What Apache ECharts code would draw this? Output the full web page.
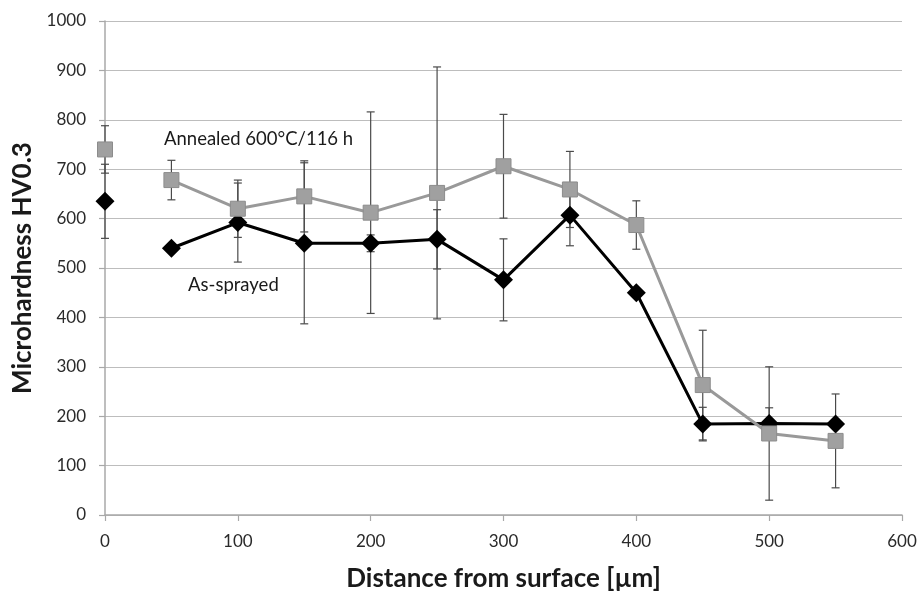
<!DOCTYPE html>
<html>
<head>
<meta charset="utf-8">
<script src="https://cdn.jsdelivr.net/npm/echarts@6/dist/echarts.min.js"></script>
<style>
  html, body { margin: 0; padding: 0; background: #fff; }
  #chart { width: 919px; height: 593px; }
</style>
</head>
<body>
<div id="chart"></div>
<script>
// Distance from the coating surface (µm)
const distances = [0, 50, 100, 150, 200, 250, 300, 350, 400, 450, 500, 550];

// Annealed 600°C/116 h: mean microhardness and ± error
const annealed    = [740, 678, 620, 645, 612, 652, 706, 659, 587, 263, 165, 150];
const annealedErr = [48, 40, 58, 72, 204, 255, 105, 77, 49, 111, 135, 95];

// As-sprayed: mean microhardness and ± error (null = no bar)
const asSprayed    = [635, 540, 592, 550, 550, 558, 476, 607, 450, 184, 185, 184];
const asSprayedErr = [75, null, 80, 163, 17, 60, 83, 62, null, 34, 32, null];

const yTicks = [0, 100, 200, 300, 400, 500, 600, 700, 800, 900, 1000];
const xTicks = [0, 100, 200, 300, 400, 500, 600];

const FONT = 'Lato, "Open Sans", sans-serif';

// surface point (index 0) is drawn on its own; the profile line starts at index 1
function profile(vals) {
  return distances.slice(1).map((d, i) => [d, vals[i + 1]]);
}
function errData(vals, errs) {
  const out = [];
  distances.forEach((d, i) => {
    if (errs[i] != null) out.push([d, vals[i] - errs[i], vals[i] + errs[i]]);
  });
  return out;
}
function renderErr(params, api) {
  const lo = api.coord([api.value(0), api.value(1)]);
  const hi = api.coord([api.value(0), api.value(2)]);
  const cap = 4;
  const style = { stroke: '#4a4a4a', lineWidth: 1.2 };
  return {
    type: 'group',
    children: [
      { type: 'line', shape: { x1: lo[0], y1: lo[1], x2: hi[0], y2: hi[1] }, style },
      { type: 'line', shape: { x1: lo[0] - cap, y1: lo[1], x2: lo[0] + cap, y2: lo[1] }, style },
      { type: 'line', shape: { x1: hi[0] - cap, y1: hi[1], x2: hi[0] + cap, y2: hi[1] }, style }
    ]
  };
}

const chart = echarts.init(document.getElementById('chart'), null, { renderer: 'canvas' });

const diamond = 'path://M0,-1 L1,0 L0,1 L-1,0 Z';
const squareStyle = { color: '#a0a0a0', borderColor: '#8c8c8c', borderWidth: 1, opacity: 1 };

chart.setOption({
  animation: false,
  backgroundColor: '#fff',
  grid: { left: 105, right: 17, top: 21, bottom: 78, containLabel: false, outerBoundsMode: 'none' },
  xAxis: {
    type: 'value',
    min: xTicks[0],
    max: xTicks[xTicks.length - 1],
    interval: 100,
    name: 'Distance from surface [µm]',
    nameLocation: 'middle',
    nameGap: 51,
    nameTextStyle: { fontFamily: FONT, fontSize: 26, fontWeight: 'bold', color: '#1a1a1a' },
    axisLine: { lineStyle: { color: '#a8a8a8', width: 1.5 } },
    axisTick: { show: true, length: 6, lineStyle: { color: '#a8a8a8', width: 1.2 } },
    axisLabel: { fontFamily: FONT, fontSize: 17, color: '#2a2a2a', margin: 18 },
    splitLine: { show: false }
  },
  yAxis: {
    type: 'value',
    min: yTicks[0],
    max: yTicks[yTicks.length - 1],
    interval: 100,
    name: 'Microhardness HV0.3',
    nameLocation: 'middle',
    nameGap: 68,
    nameTextStyle: { fontFamily: FONT, fontSize: 26, fontWeight: 'bold', color: '#1a1a1a' },
    axisLine: { show: true, lineStyle: { color: '#a8a8a8', width: 1.5 } },
    axisTick: { show: true, inside: false, length: 6, lineStyle: { color: '#a8a8a8', width: 1.2 } },
    axisLabel: { fontFamily: FONT, fontSize: 17, color: '#2a2a2a', margin: 19, formatter: v => String(v) },
    splitLine: { show: true, lineStyle: { color: '#bdbdbd', width: 1.2 } }
  },
  series: [
    {
      name: 'As-sprayed error',
      type: 'custom',
      renderItem: renderErr,
      data: errData(asSprayed, asSprayedErr),
      encode: { x: 0, y: [1, 2] },
      z: 1
    },
    {
      name: 'Annealed error',
      type: 'custom',
      renderItem: renderErr,
      data: errData(annealed, annealedErr),
      encode: { x: 0, y: [1, 2] },
      z: 1
    },
    {
      name: 'As-sprayed',
      type: 'line',
      data: profile(asSprayed),
      symbol: diamond,
      symbolSize: 19,
      showAllSymbol: true,
      lineStyle: { color: '#000', width: 3 },
      itemStyle: { color: '#000', borderColor: '#000', borderWidth: 0 },
      z: 3
    },
    {
      name: 'As-sprayed surface',
      type: 'scatter',
      data: [[distances[0], asSprayed[0]]],
      symbol: diamond,
      symbolSize: 19,
      clip: false,
      itemStyle: { color: '#000', opacity: 1 },
      z: 3
    },
    {
      name: 'Annealed 600°C/116 h',
      type: 'line',
      data: profile(annealed),
      symbol: 'rect',
      symbolSize: 15,
      showAllSymbol: true,
      lineStyle: { color: '#999999', width: 3 },
      itemStyle: squareStyle,
      z: 4
    },
    {
      name: 'Annealed surface',
      type: 'scatter',
      data: [[distances[0], annealed[0]]],
      symbol: 'rect',
      symbolSize: 15,
      clip: false,
      itemStyle: squareStyle,
      z: 4
    }
  ],
  graphic: [
    {
      type: 'text',
      left: 164,
      top: 130,
      style: { text: 'Annealed 600°C/116 h', fontFamily: FONT, fontSize: 18.5, fill: '#1a1a1a' }
    },
    {
      type: 'text',
      left: 188,
      top: 276,
      style: { text: 'As-sprayed', fontFamily: FONT, fontSize: 18.5, fill: '#1a1a1a' }
    }
  ]
});
</script>
</body>
</html>
